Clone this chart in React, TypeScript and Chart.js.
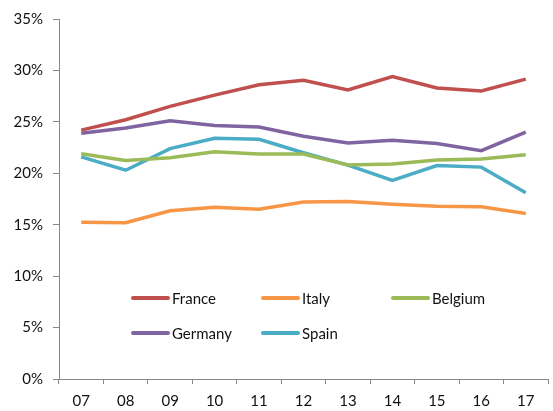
import React, { useEffect, useRef } from "react";
import { Chart, registerables } from "chart.js";

Chart.register(...registerables);

const categories = ["07", "08", "09", "10", "11", "12", "13", "14", "15", "16", "17"];
const france = [24.2, 25.2, 26.5, 27.6, 28.6, 29.05, 28.1, 29.4, 28.3, 28.0, 29.15];
const italy = [15.25, 15.2, 16.35, 16.7, 16.5, 17.2, 17.25, 17.0, 16.8, 16.75, 16.1];
const belgium = [21.9, 21.25, 21.5, 22.1, 21.87, 21.87, 20.8, 20.9, 21.3, 21.4, 21.8];
const germany = [23.9, 24.4, 25.1, 24.65, 24.5, 23.6, 22.95, 23.2, 22.9, 22.2, 24.0];
const spain = [21.6, 20.3, 22.4, 23.4, 23.3, 22.0, 20.8, 19.3, 20.75, 20.6, 18.1];
const yTicks = [0, 5, 10, 15, 20, 25, 30, 35];

const seriesNames = ["France", "Italy", "Belgium", "Germany", "Spain"];
const seriesColors = ["#C0504D", "#F79646", "#9BBB59", "#8064A2", "#4BACC6"];
const seriesData = [france, italy, belgium, germany, spain];

const FONT = "Lato, 'Open Sans', sans-serif";

const legendPlugin = {
  id: "insideLegend",
  afterDraw(chart: any) {
    const { ctx, chartArea } = chart;
    const cols = [74, 204, 334];
    const rows = [279, 314];
    ctx.save();
    ctx.font = `15px ${FONT}`;
    ctx.textBaseline = "middle";
    ctx.textAlign = "left";
    seriesNames.forEach((name, i) => {
      const col = i % 3;
      const row = Math.floor(i / 3);
      const x = chartArea.left + cols[col];
      const y = chartArea.top + rows[row];
      ctx.strokeStyle = seriesColors[i];
      ctx.lineWidth = 4;
      ctx.lineCap = "round";
      ctx.beginPath();
      ctx.moveTo(x, y);
      ctx.lineTo(x + 35, y);
      ctx.stroke();
      ctx.fillStyle = "#111";
      ctx.fillText(name, x + 39, y + 1);
    });
    ctx.restore();
  },
};

export default function App() {
  const ref = useRef<HTMLCanvasElement | null>(null);
  useEffect(() => {
    if (!ref.current) return;
    const chart = new Chart(ref.current, {
      type: "line",
      data: {
        labels: categories,
        datasets: seriesNames.map((name, i) => ({
          label: name,
          data: seriesData[i],
          borderColor: seriesColors[i],
          backgroundColor: seriesColors[i],
          borderWidth: 3.5,
          pointRadius: 0,
          tension: 0,
          fill: false,
        })),
      },
      options: {
        responsive: false,
        animation: false,
        layout: { padding: { top: 19, right: 5, left: 0, bottom: 0 } },
        plugins: { legend: { display: false }, tooltip: { enabled: false } },
        scales: {
          x: {
            type: "category",
            offset: true,
            grid: {
              display: true,
              offset: true,
              drawOnChartArea: false,
              drawTicks: true,
              tickLength: 5,
              color: "#888",
            },
            border: { display: true, color: "#888", width: 1 },
            ticks: {
              color: "#111",
              font: { family: FONT, size: 15 },
              padding: 8,
              maxRotation: 0,
            },
            afterFit(scale: any) {
              scale.height = 32;
            },
          },
          y: {
            min: 0,
            max: 35,
            afterBuildTicks(scale: any) {
              scale.ticks = yTicks.map((v) => ({ value: v }));
            },
            grid: {
              display: true,
              drawOnChartArea: false,
              drawTicks: true,
              tickLength: 6,
              color: "#888",
            },
            border: { display: true, color: "#888", width: 1 },
            ticks: {
              color: "#111",
              font: { family: FONT, size: 15 },
              padding: 10,
              callback: (v: any) => `${v}%`,
            },
            afterFit(scale: any) {
              scale.width = 59;
            },
          },
        },
      },
      plugins: [legendPlugin],
    });
    return () => chart.destroy();
  }, []);
  return (
    <div style={{ position: "fixed", left: 0, top: 0, width: 553, height: 411, background: "#fff" }}>
      <canvas ref={ref} width={553} height={411} style={{ width: 553, height: 411, display: "block" }} />
    </div>
  );
}
